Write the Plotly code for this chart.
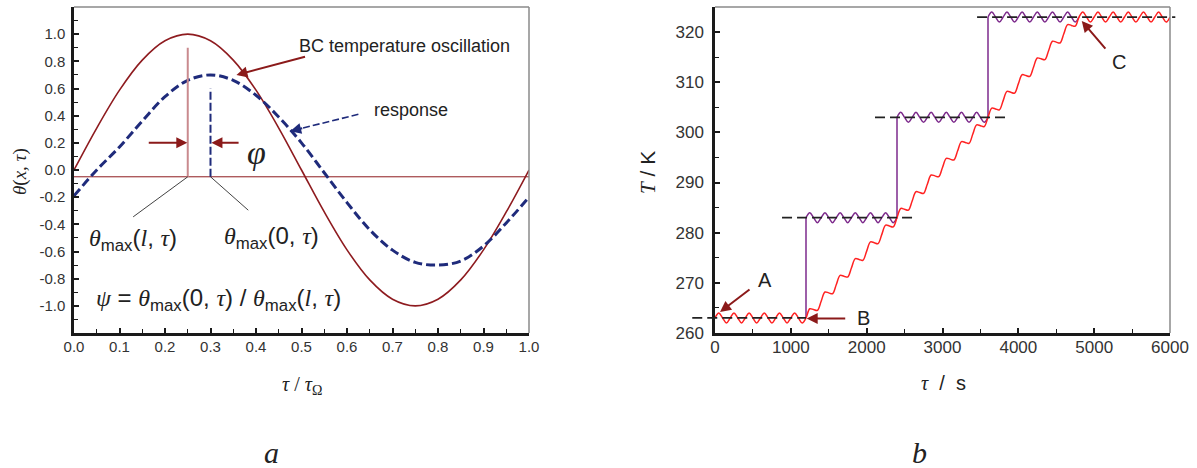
import plotly.graph_objects as go

W, H = 1197, 468

# ---------------- panel a data ----------------
tau_a = [0.0, 0.05, 0.1, 0.15, 0.2, 0.25, 0.3, 0.35, 0.4, 0.45, 0.5,
         0.55, 0.6, 0.65, 0.7, 0.75, 0.8, 0.85, 0.9, 0.95, 1.0]
bc_theta = [0.0, 0.309, 0.588, 0.809, 0.951, 1.0, 0.951, 0.809, 0.588, 0.309, 0.0,
            -0.309, -0.588, -0.809, -0.951, -1.0, -0.951, -0.809, -0.588, -0.309, 0.0]
resp_theta = [-0.19, 0.0, 0.17, 0.36, 0.54, 0.66, 0.70, 0.66, 0.55, 0.39, 0.20,
              -0.02, -0.24, -0.44, -0.59, -0.68, -0.70, -0.67, -0.56, -0.39, -0.20]
base_x = [0.0, 1.0]
base_y = [-0.05, -0.05]
bc_peak_x = [0.25, 0.25]
bc_peak_y = [-0.05, 0.9]
resp_peak_x = [0.3, 0.3]
resp_peak_y = [-0.05, 0.6]
leader_x = [0.25, 0.13, None, 0.3, 0.383]
leader_y = [-0.05, -0.345, None, -0.05, -0.296]
a_xticks = [0.0, 0.1, 0.2, 0.3, 0.4, 0.5, 0.6, 0.7, 0.8, 0.9, 1.0]
a_xlabels = ["0.0", "0.1", "0.2", "0.3", "0.4", "0.5", "0.6", "0.7", "0.8", "0.9", "1.0"]
a_yticks = [-1.0, -0.8, -0.6, -0.4, -0.2, 0.0, 0.2, 0.4, 0.6, 0.8, 1.0]
a_ylabels = ["-1.0", "-0.8", "-0.6", "-0.4", "-0.2", "0.0", "0.2", "0.4", "0.6", "0.8", "1.0"]

# ---------------- panel b data ----------------
t_red = list(range(0, 6001, 50))
T_red = [263, 264, 263, 262, 263, 264, 263, 262, 263, 264, 263, 262,
         263, 264, 263, 262, 263, 264, 263, 262, 263, 264, 263, 262, 263,
         264.83, 264.67, 264.5,
         266.33, 268.17, 268.0, 267.83,
         269.67, 271.5, 271.33, 271.17,
         273.0, 274.83, 274.67, 274.5,
         276.33, 278.17, 278.0, 277.83,
         279.67, 281.5, 281.33, 281.17,
         283.0, 284.83, 284.67, 284.5,
         286.33, 288.17, 288.0, 287.83,
         289.67, 291.5, 291.33, 291.17,
         293.0, 294.83, 294.67, 294.5,
         296.33, 298.17, 298.0, 297.83,
         299.67, 301.5, 301.33, 301.17,
         303.0, 304.83, 304.67, 304.5,
         306.33, 308.17, 308.0, 307.83,
         309.67, 311.5, 311.33, 311.17,
         313.0, 314.83, 314.67, 314.5,
         316.33, 318.17, 318.0, 317.83,
         319.67, 321.5, 321.33, 321.17,
         323.0,
         324, 323, 322, 323, 324, 323, 322, 323, 324, 323, 322, 323,
         324, 323, 322, 323, 324, 323, 322, 323, 324, 323, 322, 323]

t_step1 = list(range(1200, 2401, 50))
T_step1 = [283, 284, 283, 282, 283, 284, 283, 282, 283, 284, 283, 282,
           283, 284, 283, 282, 283, 284, 283, 282, 283, 284, 283, 282, 283]
t_step2 = list(range(2400, 3601, 50))
T_step2 = [303, 304, 303, 302, 303, 304, 303, 302, 303, 304, 303, 302,
           303, 304, 303, 302, 303, 304, 303, 302, 303, 304, 303, 302, 303]
t_step3 = list(range(3600, 4801, 50))
T_step3 = [323, 324, 323, 322, 323, 324, 323, 322, 323, 324, 323, 322,
           323, 324, 323, 322, 323, 324, 323, 322, 323, 324, 323, 322, 323]
jump_t = [1200, 2400, 3600]
jump_low = [263, 283, 303]
jump_high = [283, 303, 323]

set_levels = [263, 283, 303, 323]
set_start = [-300, 884, 2110, 3456]
set_end = [1200, 2612, 3826, 6070]

b_xticks = [0, 1000, 2000, 3000, 4000, 5000, 6000]
b_yticks = [260, 270, 280, 290, 300, 310, 320]

# ---------------- styling ----------------
SANS = "Liberation Sans"
SER = "font-family:Liberation Serif;font-style:italic"
DARKRED = "#8e1b1f"
NAVY = "#1f2b7b"
ARROW = "#8b1a1a"
TXT = "#222222"

def px(x):
    return x / W

def py(y):
    return 1 - y / H

A_DOM_X = [px(74), px(529)]
B_DOM_X = [px(715), px(1170)]
DOM_Y = [py(333), py(7)]

fig = go.Figure()

# panel a traces
fig.add_trace(go.Scatter(x=base_x, y=base_y, mode="lines", xaxis="x", yaxis="y",
                         line=dict(color=DARKRED, width=1), showlegend=False))
fig.add_trace(go.Scatter(x=tau_a, y=bc_theta, mode="lines", xaxis="x", yaxis="y",
                         line=dict(color=DARKRED, width=1.6, shape="spline"), showlegend=False))
fig.add_trace(go.Scatter(x=tau_a, y=resp_theta, mode="lines", xaxis="x", yaxis="y",
                         line=dict(color=NAVY, width=3, dash="9px,4px", shape="spline"),
                         showlegend=False))
fig.add_trace(go.Scatter(x=bc_peak_x, y=bc_peak_y, mode="lines", xaxis="x", yaxis="y",
                         line=dict(color="#c98a8e", width=2), showlegend=False))
fig.add_trace(go.Scatter(x=resp_peak_x, y=resp_peak_y, mode="lines", xaxis="x", yaxis="y",
                         line=dict(color=NAVY, width=2, dash="8px,3px"), showlegend=False))
fig.add_trace(go.Scatter(x=leader_x, y=leader_y, mode="lines", xaxis="x", yaxis="y",
                         line=dict(color="#111111", width=0.8), showlegend=False))

# response dashed arrow shaft
resp_tail = (0.625, 0.41)
resp_head = (0.475, 0.286)
fig.add_trace(go.Scatter(x=[resp_tail[0], resp_head[0]], y=[resp_tail[1], resp_head[1]],
                         mode="lines", xaxis="x", yaxis="y",
                         line=dict(color=NAVY, width=1.6, dash="7px,3px"), showlegend=False))

# panel b traces
fig.add_trace(go.Scatter(x=t_step1 + [None] + t_step2 + [None] + t_step3,
                         y=T_step1 + [None] + T_step2 + [None] + T_step3,
                         mode="lines", xaxis="x2", yaxis="y2", connectgaps=False,
                         line=dict(color="#7d2a8c", width=1.5, shape="spline"), showlegend=False))
jx, jy = [], []
for t, lo, hi in zip(jump_t, jump_low, jump_high):
    jx += [t, t, None]
    jy += [lo, hi, None]
fig.add_trace(go.Scatter(x=jx, y=jy, mode="lines", xaxis="x2", yaxis="y2",
                         line=dict(color="#7d2a8c", width=1.5), showlegend=False))
fig.add_trace(go.Scatter(x=t_red, y=T_red, mode="lines", xaxis="x2", yaxis="y2",
                         line=dict(color="#ff2222", width=1.5, shape="spline"), showlegend=False))
sx, sy = [], []
for lv, s, e in zip(set_levels, set_start, set_end):
    sx += [s, e, None]
    sy += [lv, lv, None]
fig.add_trace(go.Scatter(x=sx, y=sy, mode="lines", xaxis="x3", yaxis="y3",
                         line=dict(color="#222222", width=1.8, dash="10px,5px"), showlegend=False))

# ---------------- axes ----------------
def axis_common(**kw):
    d = dict(showgrid=False, zeroline=False, showline=True, linecolor="#1a1a1a", linewidth=2.5,
             ticks="inside", ticklen=5, tickwidth=1.5, tickcolor="#1a1a1a", automargin=False,
             tickfont=dict(family=SANS, size=15, color="#333333"), ticklabelstandoff=5)
    d.update(kw)
    return d

b_scale = 6000 / (1170 - 715)
fig.update_layout(
    width=W, height=H,
    margin=dict(l=0, r=0, t=0, b=0, pad=0),
    paper_bgcolor="white", plot_bgcolor="rgba(0,0,0,0)",
    xaxis=axis_common(domain=A_DOM_X, range=[0, 1], anchor="y",
                      tickvals=a_xticks, ticktext=a_xlabels, ticklabelstandoff=-2,
                      minor=dict(dtick=0.05, tick0=0, ticks="inside", ticklen=4,
                                 tickwidth=1.2, tickcolor="#1a1a1a")),
    yaxis=axis_common(domain=DOM_Y, range=[-1.2, 1.2], anchor="x",
                      tickvals=a_yticks, ticktext=a_ylabels, ticklabelstandoff=3,
                      minor=dict(dtick=0.1, tick0=0, ticks="inside", ticklen=4,
                                 tickwidth=1.2, tickcolor="#1a1a1a")),
    xaxis2=axis_common(domain=B_DOM_X, range=[0, 6000], anchor="y2", ticklabelstandoff=-3,
                       tickvals=b_xticks, tickfont=dict(family=SANS, size=17, color="#333333"),
                       minor=dict(dtick=500, tick0=0, ticks="inside", ticklen=4,
                                  tickwidth=1.2, tickcolor="#1a1a1a")),
    yaxis2=axis_common(domain=DOM_Y, range=[260, 325], anchor="x2",
                       tickvals=b_yticks, tickfont=dict(family=SANS, size=17, color="#333333"),
                       minor=dict(dtick=5, tick0=0, ticks="inside", ticklen=4,
                                  tickwidth=1.2, tickcolor="#1a1a1a")),
    xaxis3=dict(domain=[px(715 - 40), px(1170 + 20)], range=[-40 * b_scale, 6000 + 20 * b_scale],
                anchor="y3", visible=False, automargin=False),
    yaxis3=dict(domain=DOM_Y, range=[260, 325], anchor="x3", visible=False, automargin=False),
)

# gray top/right borders
shapes = []
for xr, yr in (("x domain", "y domain"), ("x2 domain", "y2 domain")):
    shapes.append(dict(type="line", xref=xr, yref=yr, x0=0, x1=1, y0=1, y1=1,
                       line=dict(color="#8a8a8a", width=1.5)))
    shapes.append(dict(type="line", xref=xr, yref=yr, x0=1, x1=1, y0=0, y1=1,
                       line=dict(color="#8a8a8a", width=1.5)))
fig.update_layout(shapes=shapes)

ann = []

def arrow(xh, yh, xt, yt, xr="x", yr="y", color=ARROW, width=2, size=1.1):
    ann.append(dict(x=xh, y=yh, ax=xt, ay=yt, xref=xr, yref=yr, axref=xr, ayref=yr,
                    text="", showarrow=True, arrowhead=2, arrowsize=size,
                    arrowwidth=width, arrowcolor=color, standoff=0))

def text(x, y, s, size, xr="x", yr="y", angle=0, family=SANS):
    ann.append(dict(x=x, y=y, xref=xr, yref=yr, text=s, showarrow=False, textangle=angle,
                    font=dict(family=family, size=size, color=TXT),
                    xanchor="center", yanchor="middle"))

# panel a annotations
arrow(0.357, 0.70, 0.511, 0.836)
text(0.727, 0.91, "BC temperature oscillation", 18)
text(0.74, 0.445, "response", 18)
ax_pp = (529 - 74) / 1.0
ay_pp = (333 - 7) / 2.4
dxp = (resp_tail[0] - resp_head[0]) * ax_pp
dyp = -(resp_tail[1] - resp_head[1]) * ay_pp
nrm = (dxp ** 2 + dyp ** 2) ** 0.5
ann.append(dict(x=resp_head[0], y=resp_head[1], xref="x", yref="y",
                ax=14 * dxp / nrm, ay=14 * dyp / nrm, text="", showarrow=True,
                arrowhead=2, arrowsize=1.1, arrowwidth=2, arrowcolor=NAVY, standoff=0))
arrow(0.249, 0.2, 0.161, 0.2)
arrow(0.302, 0.2, 0.365, 0.2)
text(0.40, 0.13, f"<span style='{SER}'>φ</span>", 34)
text(0.13, -0.51, f"<span style='{SER}'>θ</span><sub>max</sub>(<span style='{SER}'>l</span>, "
                  f"<span style='{SER}'>τ</span>)", 24)
text(0.434, -0.50, f"<span style='{SER}'>θ</span><sub>max</sub>(0, "
                   f"<span style='{SER}'>τ</span>)", 24)
text(0.317, -0.95, f"<span style='{SER}'>ψ</span> = <span style='{SER}'>θ</span><sub>max</sub>(0, "
                   f"<span style='{SER}'>τ</span>) / <span style='{SER}'>θ</span><sub>max</sub>("
                   f"<span style='{SER}'>l</span>, <span style='{SER}'>τ</span>)", 24)

# panel b annotations
arrow(66, 264.2, 475, 268.9, "x2", "y2")
text(660, 270.6, "A", 20, "x2", "y2")
arrow(1209, 262.9, 1737, 262.9, "x2", "y2")
text(1956, 262.9, "B", 20, "x2", "y2")
arrow(4836, 322.2, 5165, 316.4, "x2", "y2")
text(5332, 314.0, "C", 20, "x2", "y2")

# axis titles & panel labels
text(px(20), py(172), f"<span style='{SER}'>θ</span><span style='font-family:Liberation Serif'>(</span>"
                      f"<span style='{SER}'>x, τ</span><span style='font-family:Liberation Serif'>)</span>",
     19, "paper", "paper", angle=-90)
text(px(302), py(385), f"<span style='{SER}'>τ</span> / <span style='{SER}'>τ</span><sub>Ω</sub>",
     20, "paper", "paper", family="Liberation Serif")
text(px(648), py(173), f"<span style='{SER}'>T</span> / K", 21, "paper", "paper", angle=-90)
text(px(943), py(383), f"<span style='{SER}'>τ</span>  /  s", 20, "paper", "paper")
text(px(271), py(452), f"<span style='{SER}'>a</span>", 30, "paper", "paper")
text(px(919), py(452), f"<span style='{SER}'>b</span>", 30, "paper", "paper")

fig.update_layout(annotations=ann)
fig.write_html("out.html",
               post_script="document.body.style.margin='0px';document.body.style.overflow='hidden';")
